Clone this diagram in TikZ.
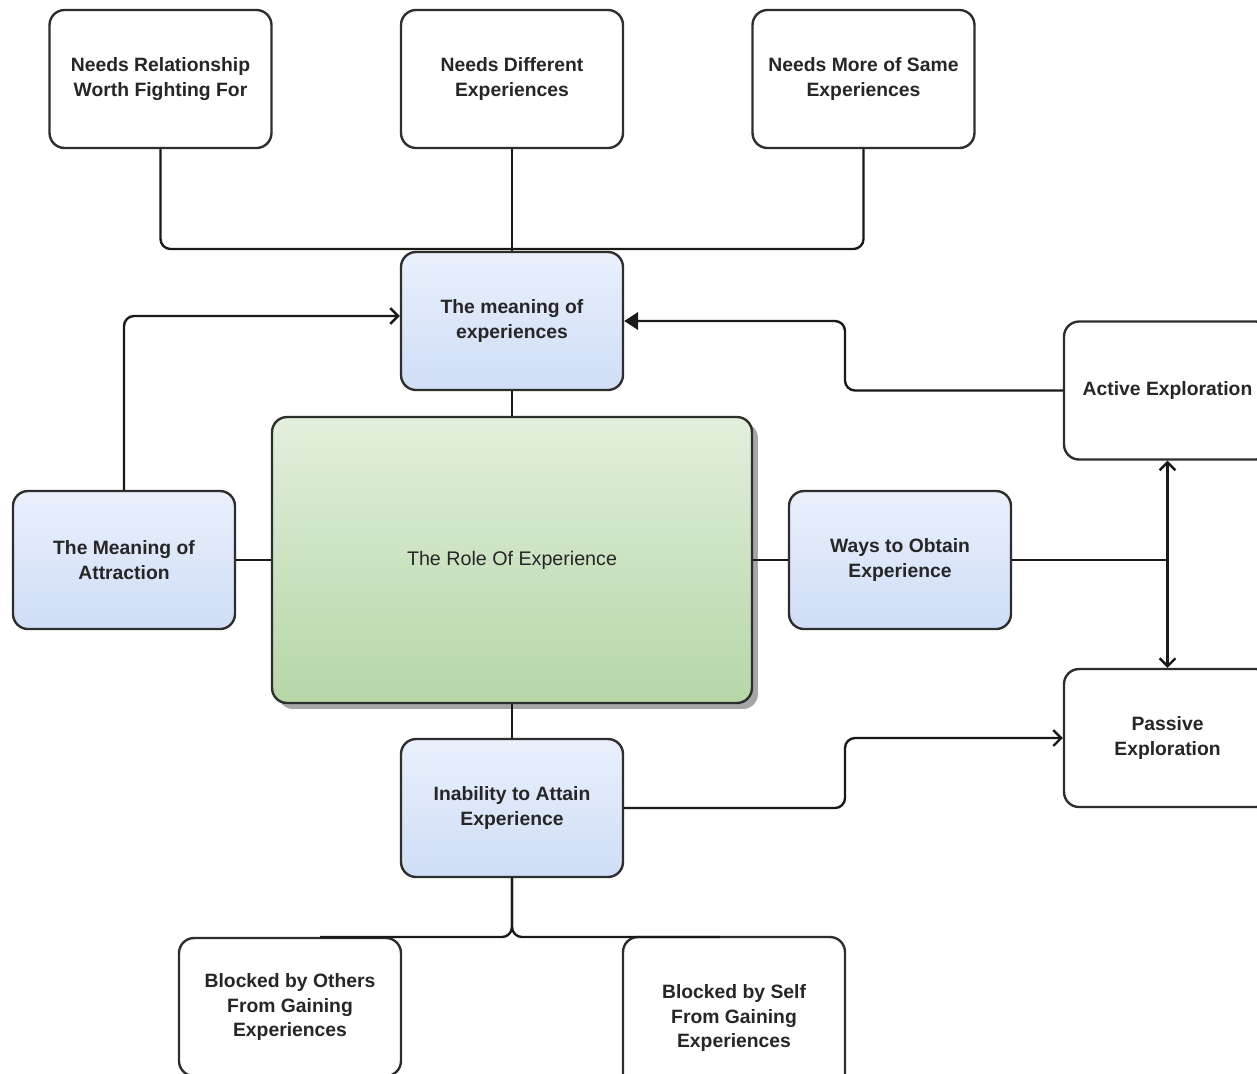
\documentclass[tikz,border=0pt]{standalone}
\usepackage{fontspec}
\setmainfont{Liberation Sans}
\usetikzlibrary{arrows.meta,shadows,calc}
\definecolor{blueT}{HTML}{EAF0FB}
\definecolor{blueB}{HTML}{CFDDF7}
\definecolor{greenT}{HTML}{E3EFDD}
\definecolor{greenB}{HTML}{B5D6A7}
\definecolor{edgecol}{HTML}{2E2E2E}
\begin{document}
\begin{tikzpicture}[x=0.02cm,y=-0.02cm,
  box/.style={draw=edgecol,line width=1.35pt,rounded corners=0.3cm,minimum width=4.44cm,minimum height=2.76cm,inner sep=0pt,align=center,text=black!85,font=\fontsize{11}{14.2}\selectfont\bfseries},
  whitebox/.style={box,fill=white},
  bluebox/.style={box,top color=blueT,bottom color=blueB},
  rolebox/.style={box,top color=greenT,middle color=greenB,bottom color=greenB,minimum width=9.6cm,minimum height=5.72cm,font=\fontsize{11.2}{14.2}\selectfont,drop shadow={shadow xshift=0.12cm,shadow yshift=-0.12cm,fill=black!35,opacity=1}},
  link/.style={draw=black!90,line width=1.35pt,rounded corners=0.2cm},
  openhead/.style={-{Straight Barb[length=4.5pt,width=9pt]}},
  bothhead/.style={{Straight Barb[length=4.5pt,width=9pt]}-{Straight Barb[length=4.5pt,width=9pt]}},
  fullhead/.style={-{Triangle[length=8pt,width=10pt]}}
]
\useasboundingbox (0,0) rectangle (1257,1073);
\clip (0,0) rectangle (1257,1073);
\fill[white] (0,0) rectangle (1257,1073);

% nodes
\node[whitebox] (NR) at (160.5,79) {Needs Relationship\\Worth Fighting For};
\node[whitebox] (ND) at (512,79) {Needs Different\\Experiences};
\node[whitebox] (NM) at (863.5,79) {Needs More of Same\\Experiences};
\node[bluebox] (ME) at (512,321) {The meaning of\\experiences};
\node[rolebox] (R) at (512,560) {The Role Of Experience};
\node[bluebox] (A) at (124,560) {The Meaning of\\Attraction};
\node[bluebox] (W) at (900,560) {Ways to Obtain\\Experience};
\node[whitebox,minimum width=4.14cm] (AE) at (1167.5,390.5) {Active Exploration};
\node[whitebox,minimum width=4.14cm] (PE) at (1167.5,738) {Passive\\Exploration};
\node[bluebox] (I) at (512,808) {Inability to Attain\\Experience};
\node[whitebox] (BO) at (290,1007) {Blocked by Others\\From Gaining\\Experiences};
\node[whitebox,minimum height=3.24cm] (BS) at (734,1018) {Blocked by Self\\From Gaining\\Experiences};

% connectors
\coordinate (jt) at (512,249);
\draw[link] (NR.south) |- (jt);
\draw[link] (NM.south) |- (jt);
\draw[link] (ND.south) -- (ME.north);
\draw[link] (ME.south) -- (R.north);
\draw[link,openhead] (A.north) |- ($(ME.west)+(0,-5)$);
\coordinate (ka) at (845,355);
\draw[link,fullhead] (AE.west) -| (ka) |- (ME.east);
\draw[link] (A.east) -- (R.west);
\draw[link] (R.east) -- (W.west);
\draw[link] (W.east) -- (W.east -| AE.south);
\draw[link,bothhead] (AE.south) -- (PE.north);
\draw[link] (R.south) -- (I.north);
\coordinate (kp) at (845,775);
\draw[link,openhead] (I.east) -| (kp) |- (PE.west);
\coordinate (bl) at (320,937);
\coordinate (br) at (720,937);
\draw[link] (I.south) |- (bl);
\draw[link] (I.south) |- (br);
\end{tikzpicture}
\end{document}
